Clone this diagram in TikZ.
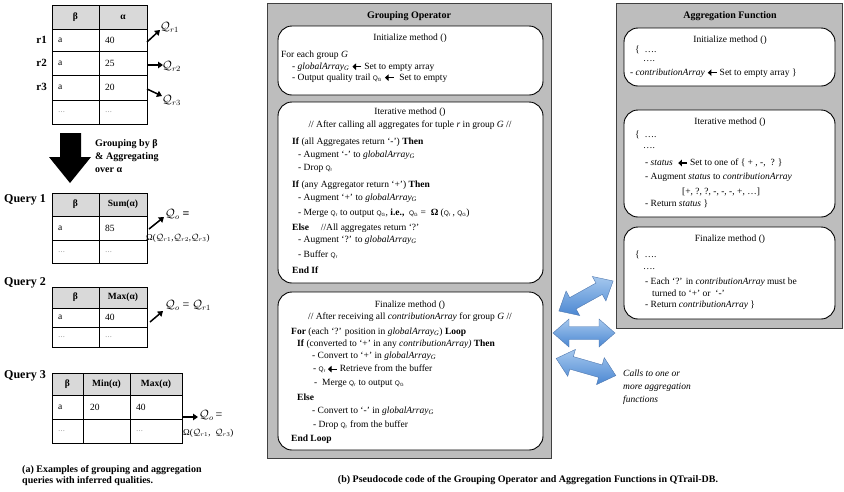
\documentclass[tikz,border=0pt]{standalone}
\usepackage{fontspec}
\setmainfont{Liberation Serif}
\setsansfont{Liberation Sans}
\usetikzlibrary{arrows.meta}
\definecolor{lblue}{RGB}{165,200,238}
\definecolor{dblue}{RGB}{75,135,210}
\definecolor{eblue}{RGB}{80,120,175}
\newcommand{\larr}{\tikz[baseline=-0.6ex]\draw[line width=1.1pt,-{Triangle[length=3.6pt,width=6.5pt]}] (9pt,0pt)--(0pt,0pt);}
\newcommand{\Qs}[1]{{\sffamily\fontsize{6.5}{7}\selectfont Q\textsubscript{#1}}}
\newcommand{\gA}{\textit{globalArray}\textsubscript{\textit{G}}}
\newcommand{\cA}{\textit{contributionArray}}
\newcommand{\dts}{{\color{black!60}\fontsize{7}{8}\selectfont\ldots}}
\newcommand{\dblarrow}{(-31,0) -- (-15,-14) -- (-15,-6.5) -- (15,-6.5) -- (15,-14) -- (31,0) -- (15,14) -- (15,6.5) -- (-15,6.5) -- (-15,14) -- cycle}
\begin{document}
\begin{tikzpicture}[x=1pt,y=-1pt,
  tx/.style={anchor=west,inner sep=0pt,font=\fontsize{9.5}{11}\selectfont},
  cx/.style={inner sep=0pt,font=\fontsize{9.5}{11}\selectfont},
  tb/.style={inner sep=0pt,font=\fontsize{9.5}{11}\selectfont},
  tbl/.style={draw=black,line width=0.9pt},
  hdr/.style={fill=black!15},
  qlab/.style={anchor=west,inner sep=0pt,font=\bfseries\fontsize{12}{14}\selectfont},
  qq/.style={anchor=west,inner sep=0pt,font=\fontsize{12}{14}\selectfont},
  om/.style={anchor=west,inner sep=0pt,font=\fontsize{9}{11}\selectfont},
  qarr/.style={line width=1.5pt,-{Triangle[length=5pt,width=6.5pt]}},
  panel/.style={draw=black!75,fill=black!26,line width=0.9pt},
  rbox/.style={draw=black,fill=white,rounded corners=14pt,line width=0.9pt},
  barr/.style={draw=eblue,line width=0.4pt,top color=lblue,bottom color=dblue},
]
\useasboundingbox (0,0) rectangle (844,491);

% ---------------- Table 1 ----------------
\fill[hdr] (52,5) rectangle (147,29);
\draw[tbl] (52,5) rectangle (147,124) (99,5)--(99,124) (52,29)--(147,29) (52,51)--(147,51) (52,75)--(147,75) (52,100)--(147,100);
\node[tb] (t1h1) at (75.5,17) {\textbf{β}};
\node[tb] (t1h2) at (123,17) {\textbf{α}};
\foreach \y/\v/\r/\n in {40/40/r1/1,63/25/r2/2,87/20/r3/3}{
  \node[tb,anchor=west] (t1a\n) at (58,\y) {a};
  \node[tb,anchor=west] (t1b\n) at (105,\y) {\v};
  \node[tb,anchor=east,font=\bfseries\fontsize{11}{12}\selectfont] (t1r\n) at (47,\y) {\r};
}
\node[tb,anchor=west] (t1d1) at (58,112) {\dts};
\node[tb,anchor=west] (t1d2) at (105,112) {\dts};
\node[qq] (qr1) at (160,27) {$\mathcal{Q}_{r1}$};
\node[qq] (qr2) at (162,66) {$\mathcal{Q}_{r2}$};
\node[qq] (qr3) at (162,100) {$\mathcal{Q}_{r3}$};
\coordinate (s1) at (147,42); \coordinate (e1) at (160,30);
\coordinate (s2) at (147,65); \coordinate (e2) at (163,65);
\coordinate (s3) at (147,89); \coordinate (e3) at (162,96);
\draw[qarr] (s1)--(e1);
\draw[qarr] (s2)--(e2);
\draw[qarr] (s3)--(e3);

% big arrow
\fill[black] (60,133) -- (81,133) -- (81,157) -- (91,157) -- (70,183) -- (49,157) -- (60,157) -- cycle;
\node[anchor=west,inner sep=0pt,font=\bfseries\fontsize{10}{12}\selectfont,align=left] (grp) at (95,156)
  {Grouping by β\\[1.2pt]\& Aggregating\\[1.2pt]over α};

% ---------------- Query 1 ----------------
\node[qlab] (q1) at (4,200) {Query 1};
\fill[hdr] (52,193) rectangle (147,216);
\draw[tbl] (52,193) rectangle (147,263) (99,193)--(99,263) (52,216)--(147,216) (52,240)--(147,240);
\node[tb] (t2h1) at (75.5,204.5) {\textbf{β}};
\node[tb] (t2h2) at (123,204.5) {\textbf{Sum(α)}};
\node[tb,anchor=west] (t2a) at (58,228) {a};
\node[tb,anchor=west] (t2b) at (105,228) {85};
\node[tb,anchor=west] (t2c) at (58,252) {\dts};
\node[tb,anchor=west] (t2d) at (105,252) {\dts};
\node[qq] (qo1) at (165,214) {$\mathcal{Q}_{o}$ \textbf{=}};
\node[om] (om1) at (146,238) {Ω($\mathcal{Q}_{r1}$,$\mathcal{Q}_{r2}$,$\mathcal{Q}_{r3}$)};
\coordinate (s4) at (149,229); \coordinate (e4) at (164,217);
\draw[qarr] (s4)--(e4);

% ---------------- Query 2 ----------------
\node[qlab] (q2) at (4,283) {Query 2};
\fill[hdr] (52,287) rectangle (147,308);
\draw[tbl] (52,287) rectangle (147,347) (99,287)--(99,347) (52,308)--(147,308) (52,327)--(147,327);
\node[tb] (t3h1) at (75.5,297.5) {\textbf{β}};
\node[tb] (t3h2) at (123,297.5) {\textbf{Max(α)}};
\node[tb,anchor=west] (t3a) at (58,317.5) {a};
\node[tb,anchor=west] (t3b) at (105,317.5) {40};
\node[tb,anchor=west] (t3c) at (58,337) {\dts};
\node[tb,anchor=west] (t3d) at (105,337) {\dts};
\node[qq] (qo2) at (165,305) {$\mathcal{Q}_{o}$ = $\mathcal{Q}_{r1}$};
\coordinate (s5) at (150,322); \coordinate (e5) at (163,311);
\draw[qarr] (s5)--(e5);

% ---------------- Query 3 ----------------
\node[qlab] (q3) at (4,376) {Query 3};
\fill[hdr] (52,373) rectangle (182,395);
\draw[tbl] (52,373) rectangle (182,443) (83,373)--(83,443) (130,373)--(130,443) (52,395)--(182,395) (52,419)--(182,419);
\node[tb] (t4h1) at (67.5,384) {\textbf{β}};
\node[tb] (t4h2) at (106.5,384) {\textbf{Min(α)}};
\node[tb] (t4h3) at (156,384) {\textbf{Max(α)}};
\node[tb,anchor=west] (t4a) at (58,407) {a};
\node[tb,anchor=west] (t4b) at (90,407) {20};
\node[tb,anchor=west] (t4c) at (136,407) {40};
\node[tb,anchor=west] (t4d) at (58,431) {\dts};
\node[tb,anchor=west] (t4e) at (136,431) {\dts};
\node[qq] (qo3) at (199,415) {$\mathcal{Q}_{o}$\,=};
\node[om] (om3) at (183,433) {Ω($\mathcal{Q}_{r1}$,\ \ $\mathcal{Q}_{r3}$)};
\coordinate (s6) at (183,417); \coordinate (e6) at (198,417);
\draw[qarr] (s6)--(e6);

\node[anchor=west,inner sep=0pt,font=\bfseries\fontsize{10}{11.5}\selectfont,align=left] (capa) at (22,475.5)
  {(a) Examples of grouping and aggregation\\queries with inferred qualities.};

% ---------------- Grouping Operator panel ----------------
\draw[panel] (267,3) rectangle (551,458);
\node[inner sep=0pt,font=\bfseries\fontsize{10}{12}\selectfont] (gop) at (409,16) {Grouping Operator};
\draw[rbox] (278,26) rectangle (543,95);
\draw[rbox] (278,102) rectangle (543,283);
\draw[rbox] (278,292) rectangle (543,450);

\node[cx] (gi0) at (410,38) {Initialize method ()};
\node[tx] (gi1) at (281,55) {For each group \textit{G}};
\node[tx] (gi2) at (292,67) {- \gA\ \larr\ Set to empty array};
\node[tx] (gi3) at (292,78) {- Output quality trail \Qs{G} \larr\ \ Set to empty};

\node[cx] (gt0) at (410,112) {Iterative method ()};
\node[cx] (gt1) at (410,125) {// After calling all aggregates for tuple \textit{r} in group \textit{G} //};
\node[tx] (gt2) at (292,142) {\textbf{If} (all Aggregates return ‘-’) \textbf{Then}};
\node[tx] (gt3) at (298,155) {- Augment ‘-’ to \gA};
\node[tx] (gt4) at (298,168) {- Drop \Qs{r}};
\node[tx] (gt5) at (292,185) {\textbf{If} (any Aggregator return ‘+’) \textbf{Then}};
\node[tx] (gt6) at (298,198) {- Augment ‘+’ to \gA};
\node[tx] (gt7) at (298,213) {- Merge \Qs{r} to output \Qs{G}, \textbf{i.e.,}\ \ \Qs{G} =\ \ \textbf{Ω} (\Qs{r}\,, \Qs{G})};
\node[tx] (gt8) at (292,228) {\textbf{Else}\quad\ //All aggregates return ‘?’};
\node[tx] (gt9) at (298,240) {- Augment ‘?’ to \gA};
\node[tx] (gt10) at (298,255) {- Buffer \Qs{r}};
\node[tx] (gt11) at (292,270) {\textbf{End If}};

\node[cx] (gf0) at (410,305) {Finalize method ()};
\node[cx] (gf1) at (410,317) {// After receiving all \cA\ for group \textit{G} //};
\node[tx] (gf2) at (291,332) {\textbf{For} (each ‘?’ position in \gA) \textbf{Loop}};
\node[tx] (gf3) at (297,344) {\textbf{If} (converted to ‘+’ in any \textit{contributionArray)} \textbf{Then}};
\node[tx] (gf4) at (312,356) {- Convert to ‘+’ in \gA};
\node[tx] (gf5) at (313,369) {- \Qs{r}\,\larr\ Retrieve from the buffer};
\node[tx] (gf6) at (314,383) {-\ \ Merge \Qs{r} to output \Qs{G}};
\node[tx] (gf7) at (297,397) {\textbf{Else}};
\node[tx] (gf8) at (312,411) {- Convert to ‘-’ in \gA};
\node[tx] (gf9) at (313,425) {- Drop \Qs{r}\ from the buffer};
\node[tx] (gf10) at (291,439) {\textbf{End Loop}};

\node[inner sep=0pt,font=\bfseries\fontsize{10}{12}\selectfont] (capb) at (528,480)
  {(b) Pseudocode code of the Grouping Operator and Aggregation Functions in QTrail-DB.};

% ---------------- Aggregation Function panel ----------------
\draw[panel] (616,3) rectangle (842,328);
\node[inner sep=0pt,font=\bfseries\fontsize{10}{12}\selectfont] (agf) at (730,16) {Aggregation Function};
\draw[rbox] (624,28) rectangle (835,86);
\draw[rbox] (624,110) rectangle (835,217);
\draw[rbox] (624,227) rectangle (835,319);

\node[cx] (ai0) at (730,40) {Initialize method ()};
\node[tx] (ai1) at (635,50) {\{\ \ ….};
\node[tx] (ai2) at (643,61.5) {….};
\node[tx] (ai3) at (630,73) {- \cA\ \larr\ Set to empty array \}};

\node[cx] (at0) at (730,122) {Iterative method ()};
\node[tx] (at1) at (635,135) {\{\ \ ….};
\node[tx] (at2) at (643,148) {….};
\node[tx] (at3) at (645,163) {- \textit{status}\ \ \larr\ Set to one of \{ + , -,\ \ ? \}};
\node[tx] (at4) at (645,177) {- Augment \textit{status} to \cA};
\node[tx] (at5) at (682,192) {[+, ?, ?, -, -, -, +, …]};
\node[tx] (at6) at (645,204) {- Return \textit{status} \}};

\node[cx] (af0) at (730,239) {Finalize method ()};
\node[tx] (af1) at (635,255) {\{\ \ ….};
\node[tx] (af2) at (643,269) {….};
\node[tx] (af3) at (645,282) {- Each ‘?’ in \cA\ must be};
\node[tx] (af4) at (652,293) {turned to ‘+’ or\ \ ‘-’};
\node[tx] (af5) at (645,305) {- Return \cA\ \}};

% ---------------- blue double arrows ----------------
\begin{scope}[shift={(586,296)},rotate=29]
  \path[barr] \dblarrow;
\end{scope}
\begin{scope}[shift={(584,333)}]
  \path[barr] \dblarrow;
\end{scope}
\begin{scope}[shift={(586,367)},rotate=-16]
  \path[barr] \dblarrow;
\end{scope}

\node[anchor=west,inner sep=0pt,font=\itshape\fontsize{9.5}{13}\selectfont,align=left] (calls) at (623,387)
  {Calls to one or\\more aggregation\\functions};
\end{tikzpicture}
\end{document}
